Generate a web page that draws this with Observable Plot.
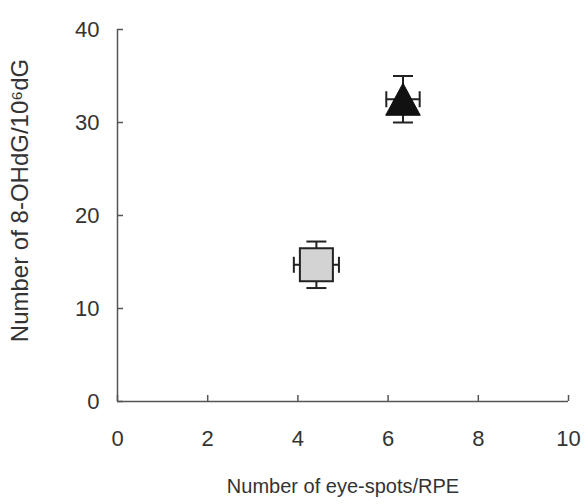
<!DOCTYPE html>
<html>
<head>
<meta charset="utf-8">
<script src="https://cdn.jsdelivr.net/npm/d3@7"></script>
<script src="https://cdn.jsdelivr.net/npm/@observablehq/plot@0.6"></script>
<style>
  html, body { margin: 0; padding: 0; background: #fff; }
  svg { font-family: "Liberation Sans", Arial, sans-serif; }
</style>
</head>
<body>
<div id="chart"></div>
<script>
// ---- data ----
const groups = ["square", "triangle"];
const eyeSpots = [4.41, 6.33];      // x: Number of eye-spots/RPE
const eyeSpotsErr = [0.5, 0.37];
const ohdg = [14.7, 32.5];          // y: Number of 8-OHdG/10^6 dG
const ohdgErr = [2.5, 2.5];
const xTicks = [0, 2, 4, 6, 8, 10];
const yTicks = [0, 10, 20, 30, 40];
const xLabel = "Number of eye-spots/RPE";
const yLabel = "Number of 8-OHdG/10\u2076dG";

const data = groups.map((g, i) => ({
  group: g, x: eyeSpots[i], xe: eyeSpotsErr[i], y: ohdg[i], ye: ohdgErr[i]
}));

// symbols (pixel-sized, r = half extent)
const rOf = size => Math.sqrt(size / Math.PI);
const hCap = {draw(ctx, size) { const r = rOf(size); ctx.moveTo(-r, 0); ctx.lineTo(r, 0); }};
const vCap = {draw(ctx, size) { const r = rOf(size); ctx.moveTo(0, -r); ctx.lineTo(0, r); }};
const squareSym = {draw(ctx, size) { const r = rOf(size); ctx.moveTo(-r, -r); ctx.lineTo(r, -r); ctx.lineTo(r, r); ctx.lineTo(-r, r); ctx.closePath(); }};
const triSym = {draw(ctx, size) { const r = rOf(size); ctx.moveTo(0, -r); ctx.lineTo(1.08 * r, r); ctx.lineTo(-1.08 * r, r); ctx.closePath(); }};

const axisColor = "#555";
const inkColor = "#222";

const chart = Plot.plot({
  width: 585,
  height: 504,
  marginLeft: 117,
  marginRight: 17,
  marginTop: 29,
  marginBottom: 103,
  style: {fontFamily: "'Liberation Sans', Arial, sans-serif", background: "#fff"},
  x: {domain: [0, 10], axis: null},
  y: {domain: [0, 40], axis: null},
  marks: [
    // axis lines
    Plot.ruleY([0], {stroke: axisColor, strokeWidth: 1.5}),
    Plot.ruleX([0], {stroke: axisColor, strokeWidth: 1.5}),
    // inward ticks
    Plot.axisX(xTicks, {tickSize: -6, tickFormat: () => "", stroke: axisColor, strokeWidth: 1.5, label: null}),
    Plot.axisY(yTicks, {tickSize: -6, tickFormat: () => "", stroke: axisColor, strokeWidth: 1.5, label: null}),
    // tick labels
    Plot.axisX(xTicks, {tickSize: 0, tickPadding: 29, fontSize: 22, fill: "#333", label: null}),
    Plot.axisY(yTicks, {tickSize: 0, tickPadding: 18, fontSize: 22, fill: "#333", label: null}),
    // axis titles
    Plot.text([xLabel], {frameAnchor: "bottom", dy: 91, fontSize: 20, fill: "#333", text: d => d}),
    Plot.text([yLabel], {frameAnchor: "left", textAnchor: "middle", dx: -97, dy: -15, rotate: -90, fontSize: 24, fill: "#333", text: d => d}),
    // error bars
    Plot.ruleX(data, {x: "x", y1: d => d.y - d.ye, y2: d => d.y + d.ye, stroke: inkColor, strokeWidth: 2}),
    Plot.ruleY(data, {y: "y", x1: d => d.x - d.xe, x2: d => d.x + d.xe, stroke: inkColor, strokeWidth: 2}),
    Plot.dot(data, {x: "x", y: d => d.y + d.ye, symbol: hCap, r: 10, stroke: inkColor, strokeWidth: 2}),
    Plot.dot(data, {x: "x", y: d => d.y - d.ye, symbol: hCap, r: 10, stroke: inkColor, strokeWidth: 2}),
    Plot.dot(data, {x: d => d.x - d.xe, y: "y", symbol: vCap, r: 8, stroke: inkColor, strokeWidth: 2}),
    Plot.dot(data, {x: d => d.x + d.xe, y: "y", symbol: vCap, r: 8, stroke: inkColor, strokeWidth: 2}),
    // markers
    Plot.dot(data.filter(d => d.group === "square"), {x: "x", y: "y", symbol: squareSym, r: 16.5, fill: "#d3d3d3", stroke: inkColor, strokeWidth: 2}),
    Plot.dot(data.filter(d => d.group === "triangle"), {x: "x", y: "y", symbol: triSym, r: 16, fill: "#111", stroke: "#111", strokeWidth: 1})
  ]
});
document.getElementById("chart").appendChild(chart);
</script>
</body>
</html>
